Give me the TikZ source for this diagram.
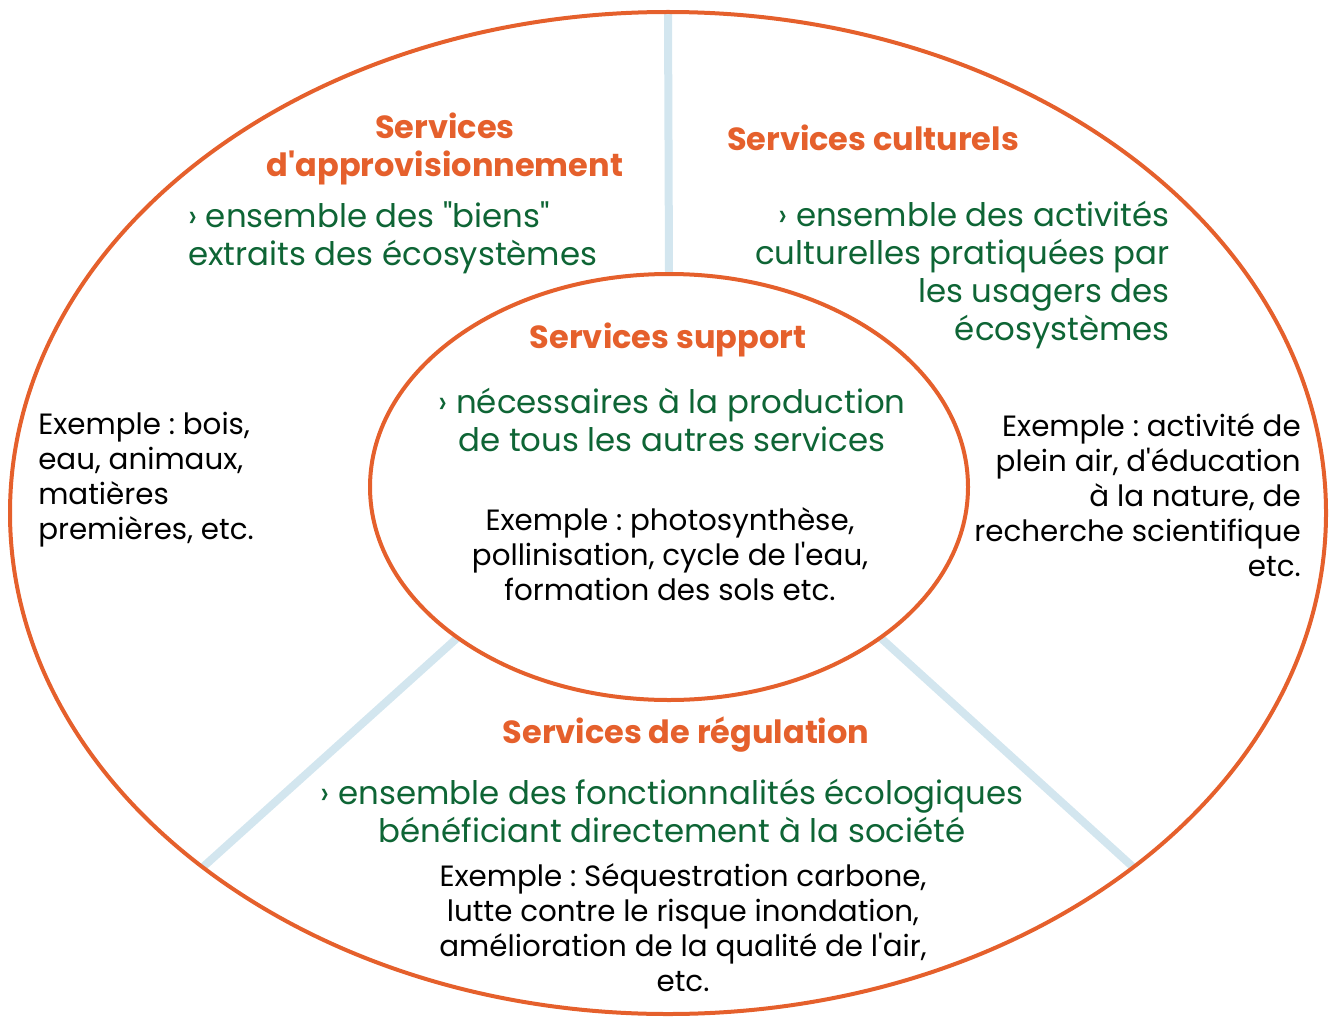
\documentclass[tikz,border=0pt]{standalone}
\usepackage{fontspec}
\setmainfont{Poppins}[Ligatures=TeXOff]
\usepackage{tikz}
\usetikzlibrary{calc}

\definecolor{SerOrange}{HTML}{E5602C}
\definecolor{SerGreen}{HTML}{0E6535}
\definecolor{SerBlue}{HTML}{D3E6EF}

\tikzset{
  title/.style={inner sep=0pt, text=SerOrange, font=\fontsize{24}{28.5}\selectfont\bfseries},
  descr/.style={inner sep=0pt, text=SerGreen, font=\fontsize{24.3}{28.5}\selectfont},
  example/.style={inner sep=0pt, text=black, font=\fontsize{22}{26.25}\selectfont}
}

\begin{document}
\frenchspacing
\begin{tikzpicture}[x=0.75pt, y=-0.75pt]
    \useasboundingbox (0,0) rectangle (1333,1016);
    \coordinate (Outer) at (668,513);
    \coordinate (Inner) at (669,487);
    \coordinate (OutTop) at ($(Outer)+(-90:658 and 501)$);
    \coordinate (InTop)  at ($(Inner)+(-90:299 and 213)$);
    \coordinate (OutSW)  at ($(Outer)+(135:658 and 501)$);
    \coordinate (InSW)   at ($(Inner)+(135:299 and 213)$);
    \coordinate (OutSE)  at ($(Outer)+(45:658 and 501)$);
    \coordinate (InSE)   at ($(Inner)+(45:299 and 213)$);
    \draw [SerBlue, line width=6pt] (InTop) -- (OutTop);% separators
    \draw [SerBlue, line width=6pt] (InSW) -- (OutSW);
    \draw [SerBlue, line width=6pt] (InSE) -- (OutSE);
    \draw [SerOrange, line width=3pt] (Outer) ellipse [x radius=658, y radius=501];
    \draw [SerOrange, line width=3pt] (Inner) ellipse [x radius=299, y radius=213];

    % provisioning
    \node[title, align=center] (ApproTitle) at (445,149) {Services\\d'approvisionnement};
    \node[descr, align=left, anchor=west] (ApproText) at (188,238) {› ensemble des "biens"\\extraits des écosystèmes};
    \node[example, align=left, anchor=west] (ApproEx) at (38,480) {Exemple : bois,\\eau, animaux,\\matières\\premières, etc.};
    % cultural
    \node[title] (CultTitle) at (873,138) {Services culturels};
    \node[descr, align=right, anchor=east] (CultText) at (1170,275) {› ensemble des activités\\culturelles pratiquées par\\les usagers des\\écosystèmes};
    \node[example, align=right, anchor=east] (CultEx) at (1301,495) {Exemple : activité de\\plein air, d'éducation\\à la nature, de\\recherche scientifique\\etc.};
    % support
    \node[title] (SuppTitle) at (668,340) {Services support};
    \node[descr, align=center] (SuppText) at (672,420) {› nécessaires à la production\\de tous les autres services};
    \node[example, align=center] (SuppEx) at (670,554) {Exemple : photosynthèse,\\pollinisation, cycle de l'eau,\\formation des sols etc.};
    % regulation
    \node[title] (RegTitle) at (686,735) {Services de régulation};
    \node[descr, align=center] (RegText) at (672,811) {› ensemble des fonctionnalités écologiques\\bénéficiant directement à la société};
    \node[example, align=center] (RegEx) at (683,928) {Exemple : Séquestration carbone,\\lutte contre le risque inondation,\\amélioration de la qualité de l'air,\\etc.};
\end{tikzpicture}
\end{document}
